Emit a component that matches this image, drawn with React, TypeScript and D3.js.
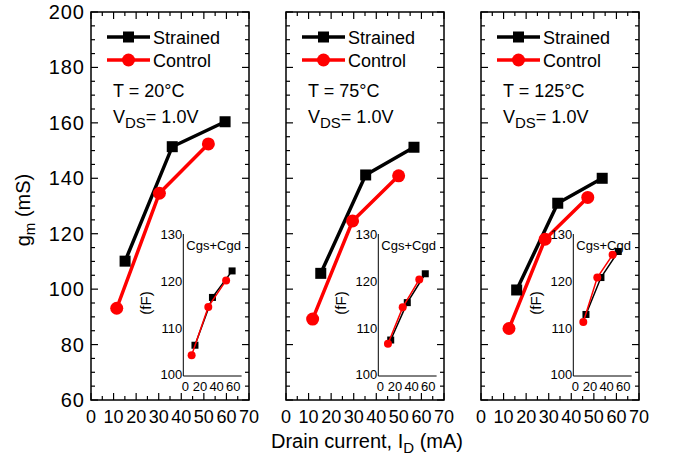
import React, { useEffect, useRef } from 'react'
import * as d3 from 'd3'

// temperatures of the three panels
const temps = ['20', '75', '125']

// main plot: gm (mS) vs drain current (mA)
const strainedId = [[15.1, 36.0, 59.4], [15.4, 35.3, 56.7], [15.8, 34.0, 53.7]]
const strainedGm = [[110.1, 151.4, 160.4], [105.7, 141.2, 151.2], [99.7, 131.0, 140.0]]
const controlId = [[11.4, 30.3, 52.0], [11.8, 29.5, 49.9], [12.4, 28.4, 47.3]]
const controlGm = [[93.1, 134.6, 152.4], [89.2, 124.6, 140.9], [85.8, 118.0, 133.1]]

// inset: Cgs+Cgd (fF) vs drain current (mA)
const strainedCapId = [[14.0, 35.0, 58.6], [14.9, 34.8, 56.4], [15.2, 33.2, 54.0]]
const strainedCap = [[106.5, 116.6, 122.2], [107.6, 115.5, 121.6], [113.0, 120.8, 126.3]]
const controlCapId = [[10.0, 30.0, 51.4], [11.6, 29.3, 49.2], [12.0, 28.8, 47.2]]
const controlCap = [[104.4, 114.6, 120.2], [106.8, 114.5, 120.4], [111.4, 120.8, 125.6]]

const xTicks = [0, 10, 20, 30, 40, 50, 60, 70]
const yTicks = [60, 80, 100, 120, 140, 160, 180, 200]
const insetXTicks = [0, 20, 40, 60]
const insetYTicks = [100, 110, 120, 130]

const FONT = '"Liberation Sans", Arial, sans-serif'

export default function App() {
  const ref = useRef<SVGSVGElement>(null)

  useEffect(() => {
    const svg = d3.select(ref.current)
    svg.selectAll('*').remove()

    /* const setup */
    const panelX = [91, 286, 481]
    const pw = 158
    const top = 12
    const bottom = 400

    const y = d3.scaleLinear().domain([60, 200]).range([bottom, top])
    const iy = d3.scaleLinear().domain([100, 130]).range([376, 234])

    temps.forEach((temp, p) => {
      const x0 = panelX[p]
      const x = d3.scaleLinear().domain([0, 70]).range([x0, x0 + pw])
      const g = svg.append('g')

      /* frame */
      g.append('rect')
        .attr('x', x0).attr('y', top)
        .attr('width', pw).attr('height', bottom - top)
        .attr('fill', 'none').attr('stroke', 'black').attr('stroke-width', 1.5)

      /* ticks on all 4 sides, inward */
      d3.range(0, 71, 5).forEach((v) => {
        const len = v % 10 === 0 ? 7 : 4
        g.append('line').attr('x1', x(v)).attr('x2', x(v)).attr('y1', bottom).attr('y2', bottom - len)
          .attr('stroke', 'black').attr('stroke-width', 1.2)
        g.append('line').attr('x1', x(v)).attr('x2', x(v)).attr('y1', top).attr('y2', top + len)
          .attr('stroke', 'black').attr('stroke-width', 1.2)
      })
      d3.range(60, 201, 5).forEach((v) => {
        const len = v % 20 === 0 ? 7 : 4
        g.append('line').attr('x1', x0).attr('x2', x0 + len).attr('y1', y(v)).attr('y2', y(v))
          .attr('stroke', 'black').attr('stroke-width', 1.2)
        g.append('line').attr('x1', x0 + pw).attr('x2', x0 + pw - len).attr('y1', y(v)).attr('y2', y(v))
          .attr('stroke', 'black').attr('stroke-width', 1.2)
      })

      /* x tick labels */
      g.selectAll('.xl').data(xTicks).enter().append('text')
        .attr('x', (d) => x(d)).attr('y', 423)
        .attr('text-anchor', 'middle')
        .attr('font-family', FONT).attr('font-size', 18)
        .text((d) => d)

      /* y tick labels, first panel only */
      if (p === 0) {
        g.selectAll('.yl').data(yTicks).enter().append('text')
          .attr('x', x0 - 6).attr('y', (d) => y(d) + 7)
          .attr('text-anchor', 'end')
          .attr('font-family', FONT).attr('font-size', 20)
          .attr('letter-spacing', 1)
          .text((d) => d)
      }

      /* main lines */
      const line = d3.line<[number, number]>().x((d) => x(d[0])).y((d) => y(d[1]))
      const sPts = strainedId[p].map((v, i) => [v, strainedGm[p][i]] as [number, number])
      const cPts = controlId[p].map((v, i) => [v, controlGm[p][i]] as [number, number])

      g.append('path').attr('d', line(sPts)).attr('fill', 'none')
        .attr('stroke', 'black').attr('stroke-width', 3.5)
      g.append('path').attr('d', line(cPts)).attr('fill', 'none')
        .attr('stroke', '#ff0000').attr('stroke-width', 3.5)
      g.selectAll('.sq').data(sPts).enter().append('rect')
        .attr('x', (d) => x(d[0]) - 5.5).attr('y', (d) => y(d[1]) - 5.5)
        .attr('width', 11).attr('height', 11).attr('fill', 'black')
      g.selectAll('.ci').data(cPts).enter().append('circle')
        .attr('cx', (d) => x(d[0])).attr('cy', (d) => y(d[1]))
        .attr('r', 6.5).attr('fill', '#ff0000')

      /* legend */
      const lx = x0 + 16
      g.append('line').attr('x1', lx).attr('x2', lx + 43).attr('y1', 37).attr('y2', 37)
        .attr('stroke', 'black').attr('stroke-width', 3.5)
      g.append('rect').attr('x', lx + 21.5 - 5.5).attr('y', 31.5).attr('width', 11).attr('height', 11)
        .attr('fill', 'black')
      g.append('line').attr('x1', lx).attr('x2', lx + 43).attr('y1', 60).attr('y2', 60)
        .attr('stroke', '#ff0000').attr('stroke-width', 3.5)
      g.append('circle').attr('cx', lx + 21.5).attr('cy', 60).attr('r', 6.5).attr('fill', '#ff0000')
      g.append('text').attr('x', lx + 46).attr('y', 44)
        .attr('font-family', FONT).attr('font-size', 18).text('Strained')
      g.append('text').attr('x', lx + 46).attr('y', 67)
        .attr('font-family', FONT).attr('font-size', 18).text('Control')

      g.append('text').attr('x', x0 + 22).attr('y', 97)
        .attr('font-family', FONT).attr('font-size', 18)
        .text(`T = ${temp}\u00B0C`)
      const vt = g.append('text').attr('x', x0 + 22).attr('y', 123)
        .attr('font-family', FONT).attr('font-size', 18)
      vt.append('tspan').text('V')
      vt.append('tspan').attr('dy', 5).attr('font-size', 15).text('DS')
      vt.append('tspan').attr('dy', -5).text('= 1.0V')

      /* inset */
      const il = x0 + 92.3
      const ix = d3.scaleLinear().domain([0, 70]).range([il, il + 58.3])
      g.append('path')
        .attr('d', `M${il},${iy(130)}V${iy(100)}H${ix(70)}`)
        .attr('fill', 'none').attr('stroke', 'black').attr('stroke-width', 1)
      g.selectAll('.iyl').data(insetYTicks).enter().append('text')
        .attr('x', il - 1).attr('y', (d) => iy(d) + (d === 100 ? 3 : 4.5))
        .attr('text-anchor', 'end')
        .attr('font-family', FONT).attr('font-size', 13)
        .text((d) => d)
      g.selectAll('.ixl').data(insetXTicks).enter().append('text')
        .attr('x', (d) => ix(d) + (d === 0 ? 2 : 0)).attr('y', 391)
        .attr('text-anchor', 'middle')
        .attr('font-family', FONT).attr('font-size', 13)
        .text((d) => d)
      g.append('text').attr('x', il + 3).attr('y', 250)
        .attr('font-family', FONT).attr('font-size', 13).text('Cgs+Cgd')
      g.append('text')
        .attr('transform', `translate(${il - 32},303) rotate(-90)`)
        .attr('text-anchor', 'middle')
        .attr('font-family', FONT).attr('font-size', 15).text('(fF)')

      const iline = d3.line<[number, number]>().x((d) => ix(d[0])).y((d) => iy(d[1]))
      const isPts = strainedCapId[p].map((v, i) => [v, strainedCap[p][i]] as [number, number])
      const icPts = controlCapId[p].map((v, i) => [v, controlCap[p][i]] as [number, number])
      g.append('path').attr('d', iline(isPts)).attr('fill', 'none')
        .attr('stroke', 'black').attr('stroke-width', 1.5)
      g.selectAll('.isq').data(isPts).enter().append('rect')
        .attr('x', (d) => ix(d[0]) - 3.5).attr('y', (d) => iy(d[1]) - 3.5)
        .attr('width', 7).attr('height', 7).attr('fill', 'black')
      g.append('path').attr('d', iline(icPts)).attr('fill', 'none')
        .attr('stroke', '#ff0000').attr('stroke-width', 1.5)
      g.selectAll('.ici').data(icPts).enter().append('circle')
        .attr('cx', (d) => ix(d[0])).attr('cy', (d) => iy(d[1]))
        .attr('r', 4).attr('fill', '#ff0000')
    })

    /* axis titles */
    const yt = svg.append('text')
      .attr('transform', 'translate(30,210) rotate(-90)')
      .attr('text-anchor', 'middle')
      .attr('font-family', FONT).attr('font-size', 20)
    yt.append('tspan').text('g')
    yt.append('tspan').attr('dy', 5).attr('font-size', 15).text('m')
    yt.append('tspan').attr('dy', -5).text(' (mS)')

    const xt = svg.append('text')
      .attr('x', 367).attr('y', 448)
      .attr('text-anchor', 'middle')
      .attr('font-family', FONT).attr('font-size', 20)
    xt.append('tspan').text('Drain current, I')
    xt.append('tspan').attr('dy', 5).attr('font-size', 15).text('D')
    xt.append('tspan').attr('dy', -5).text(' (mA)')
  }, [])

  return (
    <div style={{ position: 'absolute', left: 0, top: 0 }}>
      <svg ref={ref} width={673} height={463} style={{ display: 'block', background: 'white' }} />
    </div>
  )
}
